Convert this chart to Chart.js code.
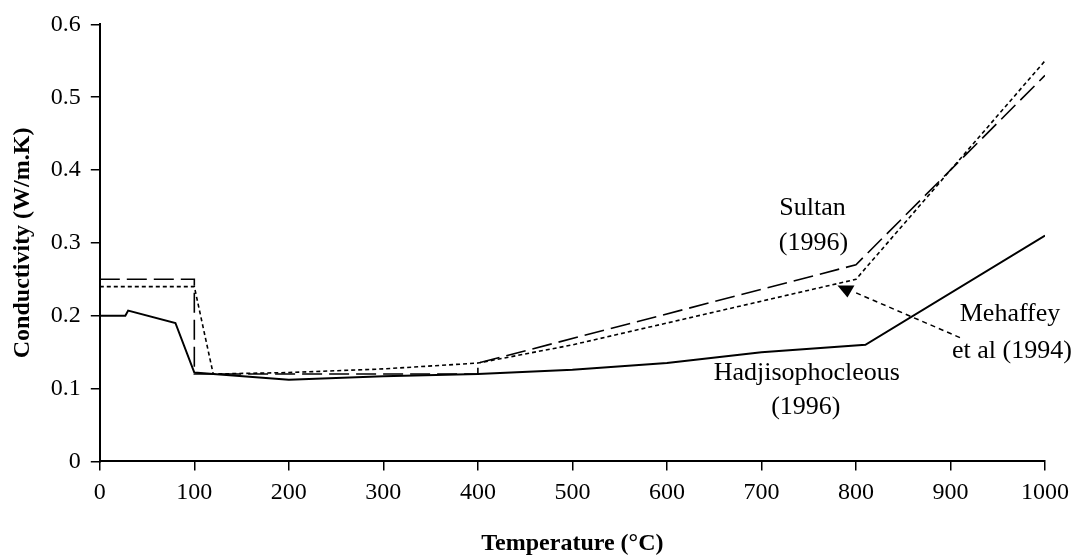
<!DOCTYPE html>
<html>
<head>
<meta charset="utf-8">
<script src="https://cdn.jsdelivr.net/npm/chart.js@4"></script>
<style>
	html, body { margin: 0; padding: 0; background: #fff; }
	#wrap { width: 1077px; height: 560px; }
</style>
</head>
<body>
<div id="wrap"><canvas id="condChart"></canvas></div>
<script>
// Temperature (C) / conductivity (W/m.K)
const hadjTemp = [0, 27, 30, 80, 100, 120, 200, 300, 400, 500, 600, 700, 810, 1000];
const hadjCond = [0.2, 0.2, 0.207, 0.19, 0.122, 0.12, 0.112, 0.117, 0.12, 0.126, 0.135, 0.15, 0.16, 0.31];

const sultanTemp = [0, 100, 100, 400, 400, 800, 1000];
const sultanCond = [0.25, 0.25, 0.12, 0.12, 0.135, 0.27, 0.53];

const mehTemp = [0, 100, 120, 200, 300, 400, 500, 600, 700, 800, 1000];
const mehCond = [0.24, 0.24, 0.12, 0.122, 0.127, 0.135, 0.16, 0.19, 0.22, 0.25, 0.55];

const xTicks = [0, 100, 200, 300, 400, 500, 600, 700, 800, 900, 1000];
const yTicks = [0, 0.1, 0.2, 0.3, 0.4, 0.5, 0.6];

const toPoints = (xs, ys) => xs.map((x, i) => ({ x: x, y: ys[i] }));
const serif = '"Liberation Serif", "DejaVu Serif", serif';

// text labels and the arrow pointing at the Mehaffey curve
const notes = {
	id: 'notes',
	afterDatasetsDraw(chart) {
		const { ctx, scales: { x, y } } = chart;
		const put = (txt, vx, vy) => ctx.fillText(txt, x.getPixelForValue(vx), y.getPixelForValue(vy));
		ctx.save();
		ctx.fillStyle = '#000';
		ctx.font = '26px ' + serif;
		ctx.textAlign = 'center';
		ctx.textBaseline = 'middle';
		put('Sultan', 754, 0.347);
		put('(1996)', 755, 0.299);
		put('Hadjisophocleous', 748, 0.121);
		put('(1996)', 747, 0.074);
		put('Mehaffey', 963, 0.202);
		put('et al (1994)', 965, 0.152);

		// dashed arrow line
		ctx.strokeStyle = '#000';
		ctx.lineWidth = 1.5;
		ctx.setLineDash([5, 4]);
		ctx.beginPath();
		ctx.moveTo(x.getPixelForValue(910), y.getPixelForValue(0.170));
		ctx.lineTo(x.getPixelForValue(799), y.getPixelForValue(0.232));
		ctx.stroke();
		ctx.setLineDash([]);
		// arrow head
		const tipX = x.getPixelForValue(791), tipY = y.getPixelForValue(0.225);
		ctx.beginPath();
		ctx.moveTo(tipX, tipY);
		ctx.lineTo(tipX - 10, tipY - 12);
		ctx.lineTo(tipX + 7, tipY - 12);
		ctx.closePath();
		ctx.fill();
		ctx.restore();
	}
};

new Chart(document.getElementById('condChart'), {
	type: 'scatter',
	data: {
		datasets: [
			{
				label: 'Hadjisophocleous (1996)',
				data: toPoints(hadjTemp, hadjCond),
				showLine: true,
				borderColor: '#000',
				borderWidth: 2,
				pointRadius: 0,
				tension: 0
			},
			{
				label: 'Sultan (1996)',
				data: toPoints(sultanTemp, sultanCond),
				showLine: true,
				borderColor: '#000',
				borderWidth: 1.6,
				borderDash: [20, 7],
				pointRadius: 0,
				tension: 0
			},
			{
				label: 'Mehaffey et al (1994)',
				data: toPoints(mehTemp, mehCond),
				showLine: true,
				borderColor: '#000',
				borderWidth: 1.6,
				borderDash: [4, 3],
				pointRadius: 0,
				tension: 0
			}
		]
	},
	options: {
		responsive: true,
		maintainAspectRatio: false,
		animation: false,
		layout: { padding: { top: 12, right: -4, left: 8, bottom: 2 } },
		plugins: { legend: { display: false }, tooltip: { enabled: false } },
		scales: {
			x: {
				type: 'linear',
				min: 0,
				max: 1000,
				afterBuildTicks: axis => { axis.ticks = xTicks.map(v => ({ value: v })); },
				border: { display: true, color: '#000', width: 2 },
				grid: { drawOnChartArea: false, drawTicks: true, tickLength: 9, color: '#000', lineWidth: 1.5 },
				ticks: { color: '#000', font: { family: serif, size: 24 }, padding: 8, maxRotation: 0, callback: v => String(v) },
				title: { display: true, text: 'Temperature (°C)', color: '#000', font: { family: serif, size: 24, weight: 'bold' }, padding: { top: 14, bottom: 0 } }
			},
			y: {
				min: 0,
				max: 0.6,
				afterBuildTicks: axis => { axis.ticks = yTicks.map(v => ({ value: v })); },
				border: { display: true, color: '#000', width: 2 },
				grid: { drawOnChartArea: false, drawTicks: true, tickLength: 9, color: '#000', lineWidth: 1.5 },
				ticks: { color: '#000', font: { family: serif, size: 24 }, padding: 10 },
				title: { display: true, text: 'Conductivity (W/m.K)', color: '#000', font: { family: serif, size: 24, weight: 'bold' }, padding: { top: 0, bottom: 4 } }
			}
		}
	},
	plugins: [notes]
});
</script>
</body>
</html>
